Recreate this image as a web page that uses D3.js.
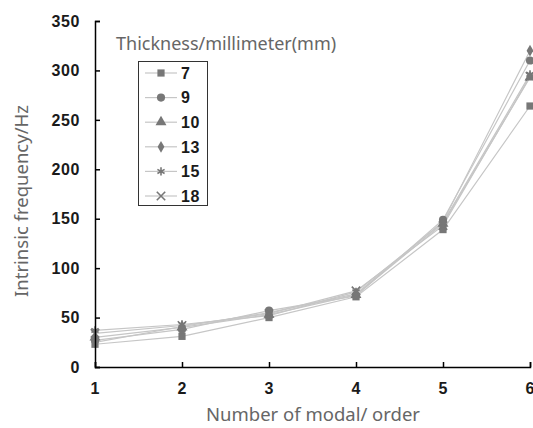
<!DOCTYPE html>
<html>
<head>
<meta charset="utf-8">
<script src="https://cdn.jsdelivr.net/npm/d3@7"></script>
<style>
  body { margin: 0; background: #fff; }
  svg { display: block; }
</style>
</head>
<body>
<div id="chart"></div>
<script>
// data
const modes = [1, 2, 3, 4, 5, 6];
const thickness = ["7", "9", "10", "13", "15", "18"];
const s7  = [23, 31, 50, 71, 139, 264];
const s9  = [27, 38, 57, 72, 149, 310];
const s10 = [30, 40, 53, 73, 145, 293];
const s13 = [25, 41, 55, 74, 147, 320];
const s15 = [37, 43, 52, 76, 146, 296];
const s18 = [34, 42, 54, 77, 143, 294];
const yTicks = [0, 50, 100, 150, 200, 250, 300, 350];

const seriesValues = [s7, s9, s10, s13, s15, s18];
const symbols = [d3.symbolSquare, d3.symbolCircle, d3.symbolTriangle, d3.symbolDiamond, d3.symbolAsterisk, d3.symbolX];
const strokeSymbols = [false, false, false, false, true, true];

const width = 533;
const height = 428;
const margin = {left: 95, right: 3, top: 21, bottom: 61};

const svg = d3.select("#chart")
    .append("svg")
    .attr("width", width)
    .attr("height", height);

const xScale = d3.scaleLinear()
    .domain([1, 6])
    .range([margin.left, width - margin.right]);

const yScale = d3.scaleLinear()
    .domain([0, 350])
    .range([height - margin.bottom, margin.top]);

const lineColor = "#c6c6c6";
const markColor = "#777777";

// lines
const line = d3.line()
    .x((d, i) => xScale(modes[i]))
    .y(d => yScale(d));

svg.selectAll(".series")
    .data(seriesValues)
    .enter()
    .append("path")
    .attr("class", "series")
    .attr("d", d => line(d))
    .attr("fill", "none")
    .attr("stroke", lineColor)
    .attr("stroke-width", 1.2);

// markers
function drawMark(g, k, x, y) {
    const sym = d3.symbol().type(symbols[k]).size(strokeSymbols[k] ? 48 : (k === 3 ? 40 : 52));
    const p = g.append("path")
        .attr("d", sym())
        .attr("transform", `translate(${x},${y})`);
    if (strokeSymbols[k]) {
        p.attr("fill", "none").attr("stroke", markColor).attr("stroke-width", 1.6);
    } else {
        p.attr("fill", markColor);
    }
}

seriesValues.forEach((vals, k) => {
    const g = svg.append("g");
    vals.forEach((v, i) => drawMark(g, k, xScale(modes[i]), yScale(v)));
});

// axes
const fontTick = "'Liberation Sans', Arial, sans-serif";

svg.append("g")
    .attr("transform", `translate(${margin.left},0)`)
    .call(d3.axisRight(yScale).tickValues(yTicks).tickSize(5).tickFormat(""))
    .call(g => g.selectAll("path,line").attr("stroke", "#000").attr("stroke-width", 1.5));

svg.append("g")
    .attr("transform", `translate(0,${height - margin.bottom})`)
    .call(d3.axisTop(xScale).tickValues(modes).tickSize(5).tickFormat(""))
    .call(g => g.selectAll("path,line").attr("stroke", "#000").attr("stroke-width", 1.5));

svg.selectAll(".ylab")
    .data(yTicks)
    .enter()
    .append("text")
    .attr("x", 80)
    .attr("y", d => yScale(d))
    .attr("dy", "0.36em")
    .attr("text-anchor", "end")
    .style("font-family", fontTick)
    .style("font-size", "16px")
    .style("font-weight", "bold")
    .style("letter-spacing", "0.6px")
    .attr("fill", "#1a1a1a")
    .text(d => d);

svg.selectAll(".xlab")
    .data(modes)
    .enter()
    .append("text")
    .attr("x", d => xScale(d))
    .attr("y", 394)
    .attr("text-anchor", "middle")
    .style("font-family", fontTick)
    .style("font-size", "16px")
    .style("font-weight", "bold")
    .attr("fill", "#1a1a1a")
    .text(d => d);

// axis titles
const fontTitle = "'Noto Sans', 'Open Sans', sans-serif";

svg.append("text")
    .attr("x", 313)
    .attr("y", 421)
    .attr("text-anchor", "middle")
    .style("font-family", fontTitle)
    .style("font-size", "18.5px")
    .attr("fill", "#666")
    .text("Number of modal/ order");

svg.append("text")
    .attr("transform", "translate(28,201) rotate(-90)")
    .attr("text-anchor", "middle")
    .style("font-family", fontTitle)
    .style("font-size", "18.5px")
    .attr("fill", "#666")
    .text("Intrinsic frequency/Hz");

// legend
svg.append("text")
    .attr("x", 116)
    .attr("y", 50)
    .style("font-family", fontTitle)
    .style("font-size", "18px")
    .attr("fill", "#666")
    .text("Thickness/millimeter(mm)");

svg.append("rect")
    .attr("x", 138.5)
    .attr("y", 61.5)
    .attr("width", 69)
    .attr("height", 144)
    .attr("fill", "#fff")
    .attr("stroke", "#333")
    .attr("stroke-width", 1);

const legend = svg.selectAll(".legend")
    .data(thickness)
    .enter()
    .append("g")
    .attr("class", "legend")
    .attr("transform", (d, i) => `translate(0,${73 + i * 24.6})`);

legend.append("line")
    .attr("x1", 145)
    .attr("x2", 177)
    .attr("stroke", lineColor)
    .attr("stroke-width", 1.2);

legend.each(function (d, i) {
    drawMark(d3.select(this), i, 161, 0);
});

legend.append("text")
    .attr("x", 181)
    .attr("dy", "0.36em")
    .style("font-family", fontTick)
    .style("font-size", "16px")
    .style("font-weight", "bold")
    .style("letter-spacing", "0.6px")
    .attr("fill", "#1a1a1a")
    .text(d => d);
</script>
</body>
</html>
